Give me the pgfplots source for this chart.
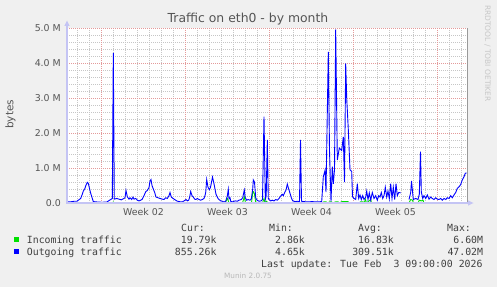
\documentclass[border=0pt]{standalone}
\usepackage{fontspec}
\setmainfont{DejaVu Sans}
\newfontfamily\monofont{DejaVu Sans Mono}
\usepackage{pgfplots}
\pgfplotsset{compat=1.18}
\definecolor{bgc}{HTML}{F0F0F0}
\definecolor{txt}{HTML}{555555}
\definecolor{legtxt}{HTML}{404040}
\definecolor{majgrid}{HTML}{E49A9A}
\definecolor{mingrid}{HTML}{C6C6C6}
\definecolor{axcol}{HTML}{C4C4F4}
\definecolor{inccol}{HTML}{00E000}
\definecolor{outcol}{HTML}{0000FF}
\begin{document}
\begin{tikzpicture}[x=1pt,y=1pt]
\fill[bgc] (0,0) rectangle (497,287);
\begin{axis}[
  at={(67pt,84pt)}, anchor=south west,
  scale only axis, width=400pt, height=175pt,
  xmin=0, xmax=400, ymin=0, ymax=5,
  axis background/.style={fill=white},
  axis line style={draw=none},
  major tick length=0pt, minor tick length=0pt,
  xtick={76.5,160.5,244.5,328.5},
  xticklabels={Week 02,Week 03,Week 04,Week 05},
  minor xtick={10,22,46,58,70,82,94,106,130,142,154,166,178,190,214,226,238,250,262,274,298,310,322,334,346,358,382,394},
  xminorgrids=true, xmajorgrids=false,
  extra x ticks={34,118,202,286,370},
  extra x tick labels={},
  extra x tick style={xmajorgrids=true},
  ytick={0,1,2,3,4,5},
  yticklabels={0.0\hspace{7.4pt},1.0 M,2.0 M,3.0 M,4.0 M,5.0 M},
  minor y tick num=4,
  ymajorgrids=true, yminorgrids=true,
  major grid style={majgrid, line width=0.9pt, dash pattern=on 1pt off 1pt},
  minor grid style={mingrid, line width=0.9pt, dash pattern=on 1pt off 1pt},
  yticklabel style={font=\fontsize{9.4}{10}\selectfont, text=txt, anchor=east, inner sep=0pt, xshift=-6pt},
  xticklabel style={font=\fontsize{9.4}{10}\selectfont, text=txt, anchor=base, inner sep=0pt, yshift=-12.7pt},
  unbounded coords=jump,
]
\addplot[inccol, line width=0.9pt] coordinates {
(0,0)(45,0)(46.3,0.03)(47.5,0)(158,0)(160.5,0.13)(162,0)
(175.5,0)(177.3,0.18)(178.5,0)(184.5,0)(185.7,0.30)(186.5,0.32)(187.5,0.25)(188.7,0.02)
(195.5,0)(197,0.13)(198,0)(199.5,0.05)(201,0)(255,0)(257,0.035)(259,0.035)(260,0)
(263,0.035)(264.5,0.035)(265.5,0)(269,0.035)(271,0.035)(272,0)(275,0.04)(281,0.04)(282,0)(292,0)
(293.5,0.035)(296,0.035)(297,0)(298.5,0.10)(299.5,0)(303.7,0.10)(304.5,0)(333.7,0)
(337,nan)
(342,0)(343.7,0.10)(345.5,0.08)(346.5,0)(351,0)(352.3,0.08)(354.3,0.06)(356,0.08)(357,0)(399.5,0)
};
\addplot[outcol, line width=0.9pt] coordinates {
(0,0.04)(3,0.03)(7,0.05)(10,0.05)(13.7,0.13)(15.3,0.25)(16.3,0.34)(17.7,0.40)(19,0.51)(20.3,0.59)
(21.3,0.56)(22.3,0.44)(23.7,0.28)(25.3,0.13)(26.3,0.04)(30,0.03)(35,0.02)(40,0.03)(41.5,0.06)
(43.7,0.10)(45.3,0.13)(46.3,4.29)(47.3,0.11)(49.7,0.13)(52,0.11)(54.3,0.09)(57,0.13)(58,0.15)
(59,0.36)(60.3,0.18)(62,0.11)(63,0.15)(64.7,0.10)(66,0.17)(67,0.11)(68.7,0.13)(70.3,0.08)
(72,0.06)(73.7,0.08)(75.3,0.11)(77,0.21)(78.7,0.32)(80.3,0.36)(82,0.44)(83,0.63)(84,0.67)
(85,0.50)(86.3,0.40)(87.7,0.30)(89,0.17)(91,0.15)(93,0.13)(95.3,0.11)(97,0.10)(98.7,0.15)
(100.3,0.13)(102,0.21)(103,0.30)(104.3,0.17)(106,0.13)(107.7,0.10)(109.7,0.06)(112,0.04)
(115.3,0.03)(117,0.06)(119,0.10)(120.3,0.06)(121.7,0.08)(122.7,0.17)(123.7,0.33)(125,0.21)
(126.3,0.17)(127.7,0.11)(129,0.10)(130.3,0.13)(132,0.10)(133.7,0.08)(135.3,0.10)(137,0.13)
(138,0.21)(138.7,0.30)(139.7,0.67)(141,0.45)(142.3,0.38)(143.5,0.45)(145.5,0.74)(147,0.55)
(149,0.25)(151,0.13)(152,0.10)(153.7,0.06)(155.3,0.05)(157,0.03)(158.7,0.05)(160.3,0.20)
(161.3,0.39)(162,0.12)(163,0.15)(163.7,0.05)(165.3,0.03)(167,0.05)(168.7,0.06)(170.3,0.05)
(172,0.08)(174.3,0.10)(175.7,0.15)(177.3,0.37)(178.3,0.15)(179.7,0.08)(181,0.10)(183,0.08)
(184.3,0.12)(185.7,0.40)(186.3,0.66)(187.5,0.60)(188.7,0.15)(190,0.08)(192,0.05)(194,0.06)
(195.5,0.10)(197,2.47)(198.3,0.10)(199.2,0.20)(200.3,1.80)(201.3,0.13)(202,0.10)(203.7,0.06)
(205.3,0.08)(207,0.06)(208.7,0.10)(210.3,0.08)(212,0.13)(213.7,0.20)(215.3,0.25)(216.3,0.21)
(217.7,0.30)(219,0.37)(220.3,0.54)(221.7,0.40)(223,0.28)(224.3,0.15)(225.7,0.06)(227,0.05)
(228.7,0.04)(230.3,0.05)(232.5,0.04)(233.5,1.80)(234.5,0.05)(237,0.04)(240,0.03)(245,0.04)
(250,0.03)(254.7,0.04)(256.3,0.75)(258,0.93)(259,0.31)(261.3,4.32)(262.5,1.50)(264,0.05)
(265.3,1.04)(266.3,0.55)(267.5,0.95)(268.7,4.96)(270.3,1.23)(272.3,1.57)(274.7,1.50)(276.3,1.89)
(277.5,0.60)(278.7,3.99)(279.7,3.00)(281.3,2.10)(283,0.95)(284.7,0.90)(285.5,0.18)(287,0.13)
(288.7,0.10)(290.3,0.55)(291.7,0.13)(293,0.23)(294.3,0.10)(295.7,0.21)(297,0.10)(298.7,0.17)
(299.7,0.34)(301,0.10)(302.3,0.29)(303.7,0.08)(305.3,0.30)(307,0.13)(308.7,0.21)(310.3,0.08)
(311.7,0.21)(313,0.17)(314.3,0.30)(315.7,0.13)(317,0.21)(318.3,0.45)(319.7,0.17)(321,0.34)
(322.3,0.12)(323.7,0.55)(325,0.13)(326.3,0.45)(327.7,0.10)(329,0.55)(330.3,0.21)(331.7,0.30)
(333.7,0.29)
(337,nan)
(342,0.10)(343.7,0.30)(344.5,0.63)(346.3,0.10)(348.7,0.13)(351,0.10)(352.3,0.25)(353.5,1.47)
(354.3,0.32)(355.7,0.13)(357,0.21)(358.7,0.13)(360.3,0.23)(362,0.11)(363.7,0.17)(365.3,0.13)
(367,0.10)(368.7,0.15)(370.3,0.11)(372,0.10)(373.7,0.13)(375.3,0.08)(377,0.13)(378.7,0.10)
(380.3,0.15)(382,0.13)(383.7,0.21)(385.3,0.15)(387,0.23)(388.7,0.30)(390.3,0.42)(392,0.46)
(393.7,0.53)(395.3,0.66)(397,0.75)(398.3,0.85)(399.5,0.86)
};
\end{axis}
% axes decorations
\draw[axcol, line width=1.3pt] (67,84) -- (67,262);
\fill[axcol] (64.3,261) -- (69.7,261) -- (67,266.5) -- cycle;
\draw[axcol, line width=1.3pt] (66.4,84) -- (468,84);
\fill[axcol] (468,81.3) -- (468,86.7) -- (473.5,84) -- cycle;
\draw[black!40, line width=0.9pt] (467.5,84.6) -- (467.5,259);
% title and labels
\node[anchor=base, inner sep=0pt, text=txt, font=\fontsize{12.4}{14}\selectfont] at (248,264) {Traffic on eth0 - by month};
\node[rotate=90, inner sep=0pt, text=txt, font=\fontsize{10.5}{12}\selectfont] at (10.5,172.7) {bytes};
\node[rotate=-90, inner sep=0pt, text=black!22, font=\fontsize{7.5}{9}\selectfont] at (487.5,233.5) {RRDTOOL / TOBI OETIKER};
% legend
\begin{scope}[every node/.style={inner sep=0pt, text=legtxt, font=\monofont\fontsize{9.85}{11}\selectfont}]
\node[anchor=base west] at (181,55.3) {Cur:};
\node[anchor=base west] at (269,55.3) {Min:};
\node[anchor=base west] at (358,55.3) {Avg:};
\node[anchor=base west] at (447,55.3) {Max:};
\fill[inccol] (14.3,44.7) rectangle (19.3,49.7);
\node[anchor=base west] at (26.7,43.3) {Incoming traffic};
\node[anchor=base east] at (216.7,43.3) {19.79k};
\node[anchor=base east] at (305,43.3) {2.86k};
\node[anchor=base east] at (394,43.3) {16.83k};
\node[anchor=base east] at (483.3,43.3) {6.60M};
\fill[outcol] (14.3,33) rectangle (19.3,38);
\node[anchor=base west] at (26.7,31.7) {Outgoing traffic};
\node[anchor=base east] at (216.7,31.7) {855.26k};
\node[anchor=base east] at (305,31.7) {4.65k};
\node[anchor=base east] at (394,31.7) {309.51k};
\node[anchor=base east] at (483.3,31.7) {47.02M};
\node[anchor=base east] at (482.7,19.7) {Last update: Tue Feb~~3 09:00:00 2026};
\end{scope}
\node[anchor=base, inner sep=0pt, text=black!28, font=\fontsize{7.3}{9}\selectfont] at (248,8.3) {Munin 2.0.75};
\end{tikzpicture}
\end{document}
